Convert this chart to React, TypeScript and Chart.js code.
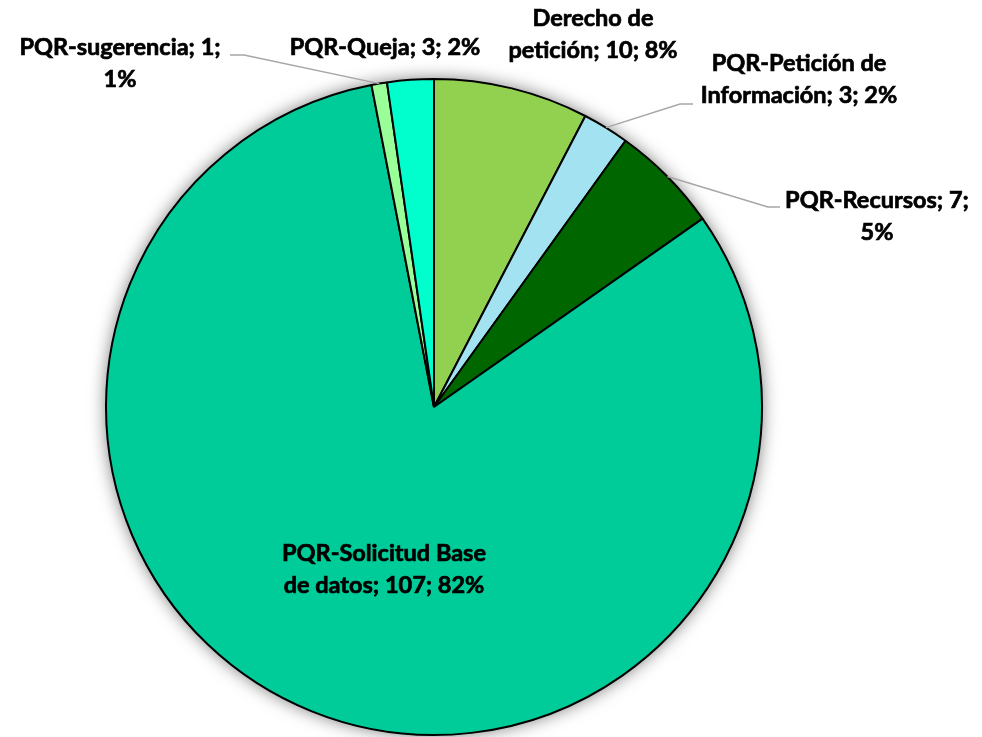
import React, { useEffect, useRef } from "react";
import { Chart, registerables } from "chart.js";

Chart.register(...registerables);

const categories = [
  "Derecho de petición",
  "PQR-Petición de Información",
  "PQR-Recursos",
  "PQR-Solicitud Base de datos",
  "PQR-sugerencia",
  "PQR-Queja",
];
const values = [10, 3, 7, 107, 1, 3];
const percentLabels = ["8%", "2%", "5%", "82%", "1%", "2%"];
const colors = ["#92D050", "#A3E2F0", "#006600", "#00CC99", "#99FF99", "#00FFCC"];

// label text lines (wrapped as in the reference)
const labelLines = [
  ["Derecho de", "petición; 10; 8%"],
  ["PQR-Petición de", "Información; 3; 2%"],
  ["PQR-Recursos; 7;", "5%"],
  ["PQR-Solicitud Base", "de datos; 107; 82%"],
  ["PQR-sugerencia; 1;", "1%"],
  ["PQR-Queja; 3; 2%"],
];

// layout: label centre (x, y of first line), leader line info
const labelLayout = [
  { x: 593, y: 18, leader: null },
  { x: 799, y: 63, leader: { ex: 693, ey: 104, hx: 680 } },
  { x: 877, y: 200, leader: { ex: 780, ey: 207, hx: 768 } },
  { x: 384, y: 553, leader: null },
  { x: 120, y: 47, leader: { ex: 230, ey: 55, hx: 244 } },
  { x: 385, y: 47, leader: null },
];

const labelPlugin = {
  id: "pieLabels",
  beforeDatasetsDraw(chart: any) {
    const meta = chart.getDatasetMeta(0);
    const arc = meta.data[0];
    if (!arc) return;
    const ctx = chart.ctx;
    ctx.save();
    ctx.shadowColor = "rgba(0,0,0,0.6)";
    ctx.shadowBlur = 18;
    ctx.shadowOffsetX = 0;
    ctx.shadowOffsetY = 0;
    ctx.fillStyle = "#ffffff";
    ctx.beginPath();
    ctx.arc(arc.x, arc.y, arc.outerRadius - 1, 0, Math.PI * 2);
    ctx.fill();
    ctx.restore();
  },
  afterDraw(chart: any) {
    const ctx = chart.ctx;
    const meta = chart.getDatasetMeta(0);
    ctx.save();
    ctx.font = "bold 23.5px Lato, 'Open Sans', sans-serif";
    ctx.fillStyle = "#000000";
    ctx.textAlign = "center";
    ctx.textBaseline = "middle";
    labelLines.forEach((lines, i) => {
      const lay = labelLayout[i];
      const el = meta.data[i];
      if (lay.leader && el) {
        const mid = (el.startAngle + el.endAngle) / 2;
        const ax = el.x + el.outerRadius * Math.cos(mid);
        const ay = el.y + el.outerRadius * Math.sin(mid);
        ctx.strokeStyle = "#A6A6A6";
        ctx.lineWidth = 1.5;
        ctx.beginPath();
        ctx.moveTo(lay.leader.ex, lay.leader.ey);
        ctx.lineTo(lay.leader.hx, lay.leader.ey);
        ctx.lineTo(ax, ay);
        ctx.stroke();
      }
      ctx.strokeStyle = "#000000";
      ctx.lineWidth = 0.7;
      lines.forEach((t, j) => {
        ctx.fillText(t, lay.x, lay.y + j * 32.5);
        ctx.strokeText(t, lay.x, lay.y + j * 32.5);
      });
    });
    ctx.restore();
  },
};

export default function App() {
  const ref = useRef<HTMLCanvasElement>(null);
  useEffect(() => {
    if (!ref.current) return;
    const chart = new Chart(ref.current, {
      type: "pie",
      data: {
        labels: categories,
        datasets: [
          {
            data: values,
            backgroundColor: colors,
            borderColor: "#000000",
            borderWidth: 2,
          },
        ],
      },
      options: {
        animation: false,
        responsive: false,
        maintainAspectRatio: false,
        layout: { padding: { top: 78, bottom: 1, left: 105, right: 219 } },
        plugins: {
          legend: { display: false },
          tooltip: { enabled: false },
        },
      },
      plugins: [labelPlugin],
    });
    return () => chart.destroy();
  }, []);
  return (
    <div style={{ position: "absolute", left: 0, top: 0, width: 982, height: 737, background: "#fff" }}>
      <canvas ref={ref} width={982} height={737} style={{ width: 982, height: 737 }} />
    </div>
  );
}
